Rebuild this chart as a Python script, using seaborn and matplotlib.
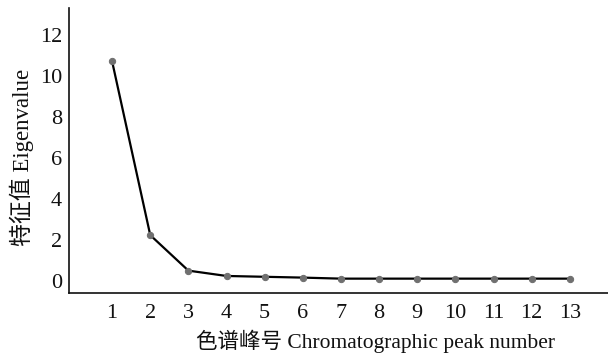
import pandas as pd
import numpy as np
import matplotlib
matplotlib.use("Agg")
import matplotlib.pyplot as plt
import seaborn as sns

# Dữ liệu
peak_number = [1, 2, 3, 4, 5, 6, 7, 8, 9, 10, 11, 12, 13]
eigenvalue = [10.7, 2.23, 0.5, 0.24, 0.2, 0.16, 0.11, 0.11, 0.11, 0.11, 0.11, 0.11, 0.11]
y_ticks = [0, 2, 4, 6, 8, 10, 12]

data = pd.DataFrame({'peak': peak_number, 'eig': eigenvalue})

sns.set_style("ticks")
plt.rcParams['font.family'] = ['Liberation Serif', 'Noto Sans CJK SC']
plt.rcParams['axes.unicode_minus'] = False

fig = plt.figure(figsize=(6.08, 3.54), dpi=100)
ax = fig.add_axes([69 / 608, 61 / 354, 539 / 608, 285 / 354])

sns.lineplot(x='peak', y='eig', data=data, ax=ax, color='black', linewidth=1.6,
             marker='o', markersize=4.5, markerfacecolor='#707070',
             markeredgecolor='#707070', zorder=3)

ax.set_xlim(-0.13, 14.0)
ax.set_ylim(-0.59, 13.3)
ax.set_xticks(peak_number)
ax.set_yticks(y_ticks)
ax.tick_params(axis='both', length=0, labelsize=16, colors='#111111')
ax.tick_params(axis='x', pad=8)
ax.tick_params(axis='y', pad=5)

for s in ['top', 'right']:
    ax.spines[s].set_visible(False)
for s in ['left', 'bottom']:
    ax.spines[s].set_linewidth(1.2)
    ax.spines[s].set_color('#111111')

ax.set_xlabel('色谱峰号 Chromatographic peak number', fontsize=15.5, color='#111111')
ax.set_ylabel('特征值 Eigenvalue', fontsize=16.5, color='#111111')
ax.xaxis.set_label_coords(0.568, -0.13)
ax.yaxis.set_label_coords(-0.065, 0.477)

fig.savefig('out.png', dpi=100)
